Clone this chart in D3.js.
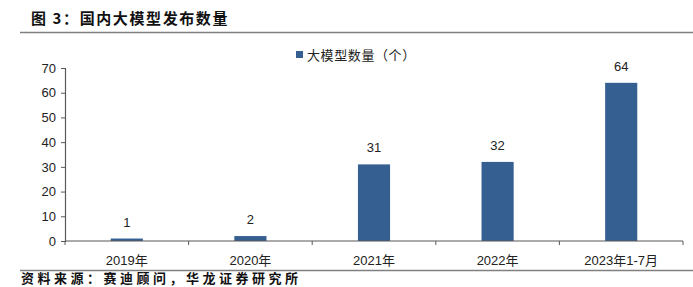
<!DOCTYPE html>
<html>
<head>
<meta charset="utf-8">
<script src="https://cdn.jsdelivr.net/npm/d3@7"></script>
<style>
  body { margin: 0; background: #fff; }
  svg { display: block; }
</style>
</head>
<body>
<div id="chart"></div>
<script>
// data
var categories = ["2019年", "2020年", "2021年", "2022年", "2023年1-7月"];
var counts = [1, 2, 31, 32, 64];
var yTicks = [0, 10, 20, 30, 40, 50, 60, 70];
var seriesName = "大模型数量（个）";
var title = "图 3：国内大模型发布数量";
var source = "资料来源：赛迪顾问，华龙证券研究所";

var W = 693, H = 287;
var plot = {left: 65, right: 683, top: 68, bottom: 241};
var barColor = "#365f91";
var axisColor = "#595959";
var numFont = "'Liberation Sans', Arial, 'Noto Sans CJK SC', sans-serif";
var cjkFont = "'Noto Sans CJK SC', sans-serif";

var svg = d3.select("#chart").append("svg")
    .attr("width", W)
    .attr("height", H);

// title + rule under it
svg.append("text")
    .attr("x", 31)
    .attr("y", 24)
    .attr("font-family", cjkFont)
    .attr("font-weight", "bold")
    .attr("font-size", 15)
    .attr("letter-spacing", 1.6)
    .attr("fill", "#111")
    .attr("xml:space", "preserve")
    .text(title);

svg.append("line")
    .attr("x1", 20).attr("x2", W)
    .attr("y1", 32.5).attr("y2", 32.5)
    .attr("stroke", "#808080")
    .attr("stroke-width", 1.5);

// scales
var x = d3.scaleBand()
    .domain(categories)
    .range([plot.left, plot.right])
    .padding(0);

var y = d3.scaleLinear()
    .domain([0, 70])
    .range([plot.bottom, plot.top]);

var barFrac = 0.26;

// bars
svg.selectAll("rect.bar")
    .data(counts)
    .enter().append("rect")
    .attr("class", "bar")
    .attr("x", function(d, i) { return x(categories[i]) + x.bandwidth() * (1 - barFrac) / 2; })
    .attr("width", x.bandwidth() * barFrac)
    .attr("y", function(d) { return y(d); })
    .attr("height", function(d) { return y(0) - y(d); })
    .attr("fill", barColor);

// value labels
svg.selectAll("text.val")
    .data(counts)
    .enter().append("text")
    .attr("class", "val")
    .attr("x", function(d, i) { return x(categories[i]) + x.bandwidth() / 2; })
    .attr("y", function(d) { return y(d) - 12; })
    .attr("text-anchor", "middle")
    .attr("font-family", numFont)
    .attr("font-size", 13)
    .attr("fill", "#222")
    .text(function(d) { return d; });

// y axis
var yAxis = svg.append("g")
    .attr("transform", "translate(" + plot.left + ",0)")
    .call(d3.axisLeft(y).tickValues(yTicks).tickSize(4).tickPadding(5));
yAxis.select(".domain").attr("stroke", axisColor).attr("stroke-width", 1.2);
yAxis.selectAll(".tick line").attr("stroke", axisColor);
yAxis.selectAll(".tick text")
    .attr("font-family", numFont)
    .attr("font-size", 13)
    .attr("fill", "#222");

// x axis: ticks sit on the category boundaries
svg.append("line")
    .attr("x1", plot.left).attr("x2", plot.right)
    .attr("y1", plot.bottom).attr("y2", plot.bottom)
    .attr("stroke", axisColor)
    .attr("stroke-width", 1.2);

var bounds = categories.map(function(c) { return x(c); }).concat([plot.right]);
svg.selectAll("line.xtick")
    .data(bounds)
    .enter().append("line")
    .attr("class", "xtick")
    .attr("x1", function(d) { return d; })
    .attr("x2", function(d) { return d; })
    .attr("y1", plot.bottom)
    .attr("y2", plot.bottom + 4)
    .attr("stroke", axisColor);

svg.selectAll("text.xlab")
    .data(categories)
    .enter().append("text")
    .attr("class", "xlab")
    .attr("x", function(d) { return x(d) + x.bandwidth() / 2; })
    .attr("y", 265)
    .attr("text-anchor", "middle")
    .attr("font-family", numFont)
    .attr("font-size", 13)
    .attr("fill", "#222")
    .text(function(d) { return d; });

// legend
svg.append("rect")
    .attr("x", 296).attr("y", 51)
    .attr("width", 7).attr("height", 7)
    .attr("fill", barColor);
svg.append("text")
    .attr("x", 307)
    .attr("y", 60)
    .attr("font-family", cjkFont)
    .attr("font-size", 13)
    .attr("letter-spacing", 0.6)
    .attr("fill", "#222")
    .text(seriesName);

// bottom rule + source note
svg.append("line")
    .attr("x1", 20).attr("x2", W)
    .attr("y1", 270.5).attr("y2", 270.5)
    .attr("stroke", "#808080")
    .attr("stroke-width", 1.5);

svg.append("text")
    .attr("x", 21)
    .attr("y", 283)
    .attr("font-family", cjkFont)
    .attr("font-weight", "bold")
    .attr("font-size", 13)
    .attr("letter-spacing", 3.5)
    .attr("fill", "#111")
    .text(source);
</script>
</body>
</html>
